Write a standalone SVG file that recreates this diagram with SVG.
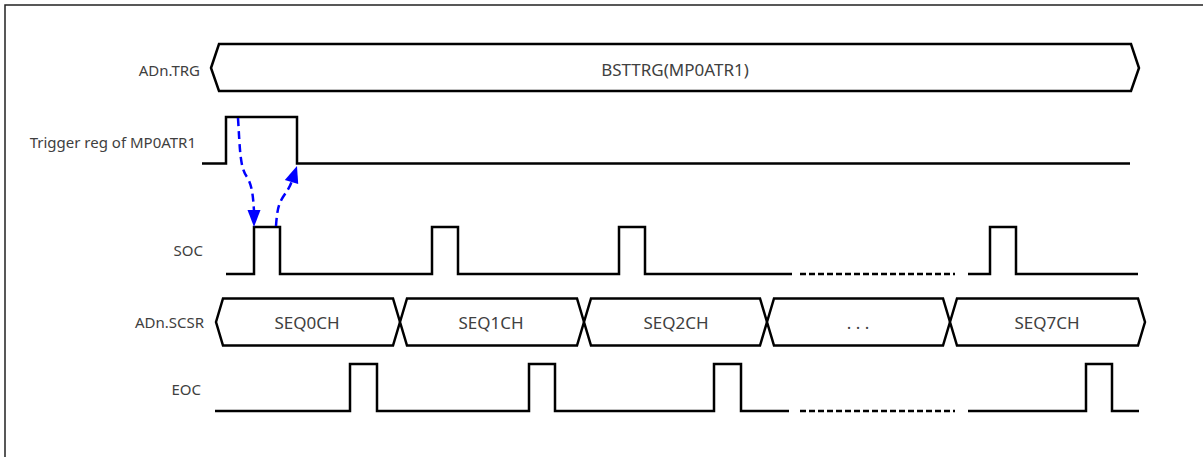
<svg xmlns="http://www.w3.org/2000/svg" width="1203" height="457" viewBox="0 0 1203 457">
<style>
.lbl{font-family:"Noto Sans","Open Sans",sans-serif;font-size:15px;fill:#404040;text-anchor:end}
.bus{font-family:"Noto Sans","Open Sans",sans-serif;font-size:17px;fill:#404040;text-anchor:middle}
.w{fill:none;stroke:#000;stroke-width:2.5;stroke-linejoin:miter}
.d{fill:none;stroke:#000;stroke-width:2.5;stroke-dasharray:6 3}
.bx{fill:#fff;stroke:#000;stroke-width:2.5;stroke-linejoin:miter}
.ar{fill:none;stroke:#0000ff;stroke-width:2.5;stroke-dasharray:8 5}
.ah{fill:#0000ff}
</style>
<rect width="1203" height="457" fill="#fff"/>
<path d="M5,457 V5 H1203" fill="none" stroke="#222" stroke-width="1.5"/>
<g id="trg">
<text class="lbl" x="200" y="76">ADn.TRG</text>
<polygon class="bx" points="211,68 219,44 1131,44 1139,68 1131,91 219,91"/>
<text class="bus" x="675" y="76">BSTTRG(MP0ATR1)</text>
</g>
<g id="trigreg">
<text class="lbl" x="196" y="148">Trigger reg of MP0ATR1</text>
<path class="w" d="M202,163.5 H226 V117 H297 V163.5 H1130"/>
</g>
<g id="soc">
<text class="lbl" x="203" y="256">SOC</text>
<path class="w" d="M226,274 H254 V227 H280 V274 H432 V227 H458 V274 H619 V227 H645 V274 H792"/>
<path class="d" d="M800,274 H955"/>
<path class="w" d="M968,274 H990 V227 H1016 V274 H1138"/>
</g>
<g id="scsr">
<text class="lbl" x="204" y="328">ADn.SCSR</text>
<polygon class="bx" points="216,322 223,298.5 393,298.5 400,322 393,345.5 223,345.5"/>
<polygon class="bx" points="400,322 407,298.5 577,298.5 584,322 577,345.5 407,345.5"/>
<polygon class="bx" points="584,322 591,298.5 760,298.5 767,322 760,345.5 591,345.5"/>
<polygon class="bx" points="767,322 774,298.5 943,298.5 950,322 943,345.5 774,345.5"/>
<polygon class="bx" points="950,322 957,298.5 1138,298.5 1145,322 1138,345.5 957,345.5"/>
<text class="bus" x="307" y="329">SEQ0CH</text>
<text class="bus" x="491" y="329">SEQ1CH</text>
<text class="bus" x="676" y="329">SEQ2CH</text>
<text class="bus" x="858" y="329">. . .</text>
<text class="bus" x="1047" y="329">SEQ7CH</text>
</g>
<g id="eoc">
<text class="lbl" x="201" y="395">EOC</text>
<path class="w" d="M215,411 H350 V364 H377 V411 H529 V364 H555 V411 H714 V364 H741 V411 H789"/>
<path class="d" d="M800,411 H955"/>
<path class="w" d="M968,411 H1086 V364 H1112 V411 H1139"/>
</g>
<g id="connectors">
<path class="ar" d="M238,118 C240,150 240,168 247,177 C252,185 253,195 254,211"/>
<polygon class="ah" points="254,227 247.5,210 260.5,210"/>
<path class="ar" d="M276,226 C277,212 278,205 283,197 C287,191 290,187 291.5,182"/>
<polygon class="ah" points="297,166 284.8,180.1 298.2,183.9"/>
</g>
</svg>
